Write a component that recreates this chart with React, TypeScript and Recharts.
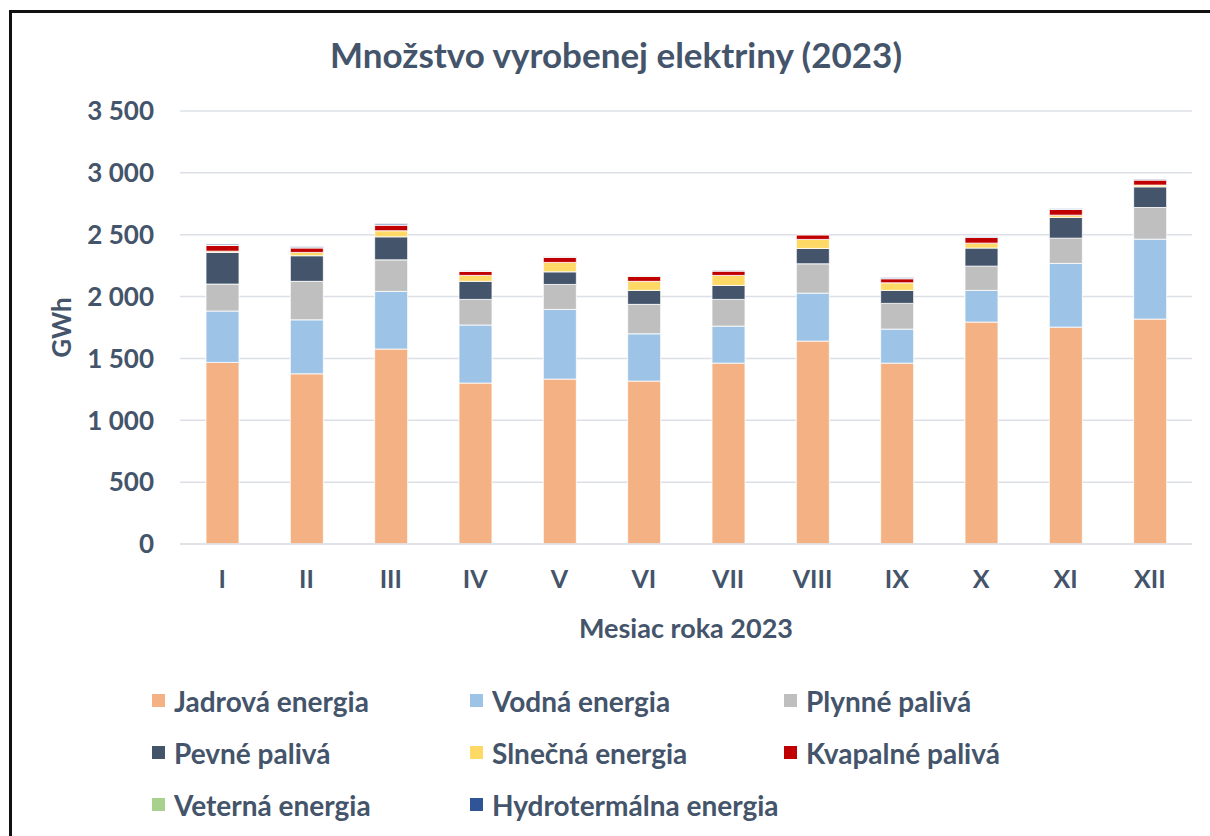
import React from 'react';
import { BarChart, Bar, XAxis, YAxis, CartesianGrid, Legend } from 'recharts';

// months of 2023 (roman numerals as in the source)
const months = ['I', 'II', 'III', 'IV', 'V', 'VI', 'VII', 'VIII', 'IX', 'X', 'XI', 'XII'];

// GWh per source
const jadrova = [1468, 1376, 1576, 1301, 1333, 1317, 1462, 1640, 1462, 1794, 1753, 1818];
const vodna = [415, 436, 466, 469, 563, 382, 299, 388, 275, 256, 515, 646];
const plynne = [218, 311, 255, 207, 202, 238, 216, 237, 208, 196, 204, 256];
const pevne = [256, 207, 186, 146, 102, 113, 113, 124, 105, 146, 168, 167];
const slnecna = [10, 27, 49, 48, 76, 73, 81, 73, 61, 40, 18, 14];
const kvapalne = [48, 37, 46, 32, 41, 40, 35, 37, 33, 46, 46, 42];
const veterna = [1, 1, 1, 6, 7, 6, 3, 2, 3, 2, 1, 1];
const hydrotermalna = [8, 7, 9, 3, 3, 2, 5, 4, 8, 6, 7, 6];

const yTicks = [0, 500, 1000, 1500, 2000, 2500, 3000, 3500];

const series = [
    { key: 'jadrova', name: 'Jadrová energia', color: '#F4B183', values: jadrova },
    { key: 'vodna', name: 'Vodná energia', color: '#9DC3E6', values: vodna },
    { key: 'plynne', name: 'Plynné palivá', color: '#BFBFBF', values: plynne },
    { key: 'pevne', name: 'Pevné palivá', color: '#44546A', values: pevne },
    { key: 'slnecna', name: 'Slnečná energia', color: '#FFD966', values: slnecna },
    { key: 'kvapalne', name: 'Kvapalné palivá', color: '#C00000', values: kvapalne },
    { key: 'veterna', name: 'Veterná energia', color: '#A9D18E', values: veterna },
    { key: 'hydrotermalna', name: 'Hydrotermálna energia', color: '#2F5597', values: hydrotermalna },
];

const data = months.map((m, i) => {
    const row: any = { month: m };
    series.forEach(s => { row[s.key] = s.values[i]; });
    return row;
});

const TEXT = '#44546A';
const FONT = 'Lato, "Open Sans", sans-serif';

const fmt = (v: number) => String(v).replace(/\B(?=(\d{3})+(?!\d))/g, ' ');

const LegendGrid = () => (
    <div style={{ display: 'grid', gridTemplateColumns: '318px 314px 320px', rowGap: '23px', fontFamily: FONT }}>
        {series.map(s => (
            <div key={s.key} style={{ display: 'flex', alignItems: 'center', height: 29 }}>
                <div style={{ width: 13, height: 13, background: s.color, marginRight: 9 }} />
                <span style={{ fontSize: 28, fontWeight: 700, color: TEXT, whiteSpace: 'nowrap' }}>{s.name}</span>
            </div>
        ))}
    </div>
);

export default function App() {
    return (
        <div style={{ position: 'absolute', left: 0, top: 0, width: 1210, height: 836, overflow: 'hidden', background: '#fff' }}>
            <div style={{ position: 'absolute', left: 9, top: 10, width: 1400, height: 1000, border: '3px solid #111' }} />
            <div style={{ position: 'absolute', left: 0, top: 33, width: 1232, textAlign: 'center', fontFamily: FONT, fontWeight: 700, fontSize: 35, color: TEXT }}>
                Množstvo vyrobenej elektriny (2023)
            </div>
            <div style={{ position: 'absolute', left: 0, top: 0 }}>
                <BarChart width={1210} height={836} data={data} margin={{ top: 111, right: 18, bottom: 192, left: 0 }}>
                    <CartesianGrid vertical={false} stroke="#DCE0E6" strokeWidth={1.5} />
                    <XAxis
                        dataKey="month"
                        height={100}
                        tickLine={false}
                        axisLine={{ stroke: '#DCE0E6', strokeWidth: 1.5 }}
                        tickMargin={20}
                        tick={{ fill: TEXT, fontSize: 25, fontWeight: 700, fontFamily: FONT }}
                        label={{ value: 'Mesiac roka 2023', position: 'insideBottom', offset: 6, style: { fill: TEXT, fontSize: 27, fontWeight: 700, fontFamily: FONT } }}
                    />
                    <YAxis
                        width={180}
                        domain={[0, 3500]}
                        ticks={yTicks}
                        tickFormatter={fmt}
                        tickLine={false}
                        axisLine={false}
                        tickMargin={20}
                        tick={{ fill: TEXT, fontSize: 26, fontWeight: 700, fontFamily: FONT }}
                        label={{ value: 'GWh', angle: -90, position: 'insideLeft', offset: 62, style: { textAnchor: 'middle', fill: TEXT, fontSize: 26, fontWeight: 700, fontFamily: FONT } }}
                    />
                    <Legend
                        layout="horizontal"
                        verticalAlign="middle"
                        align="center"
                        wrapperStyle={{ top: 686, left: 152, width: 960 }}
                        content={() => <LegendGrid />}
                    />
                    {series.map(s => (
                        <Bar key={s.key} dataKey={s.key} name={s.name} stackId="a" fill={s.color} stroke="#fff" strokeWidth={0.8} barSize={33} isAnimationActive={false} />
                    ))}
                </BarChart>
            </div>
        </div>
    );
}
